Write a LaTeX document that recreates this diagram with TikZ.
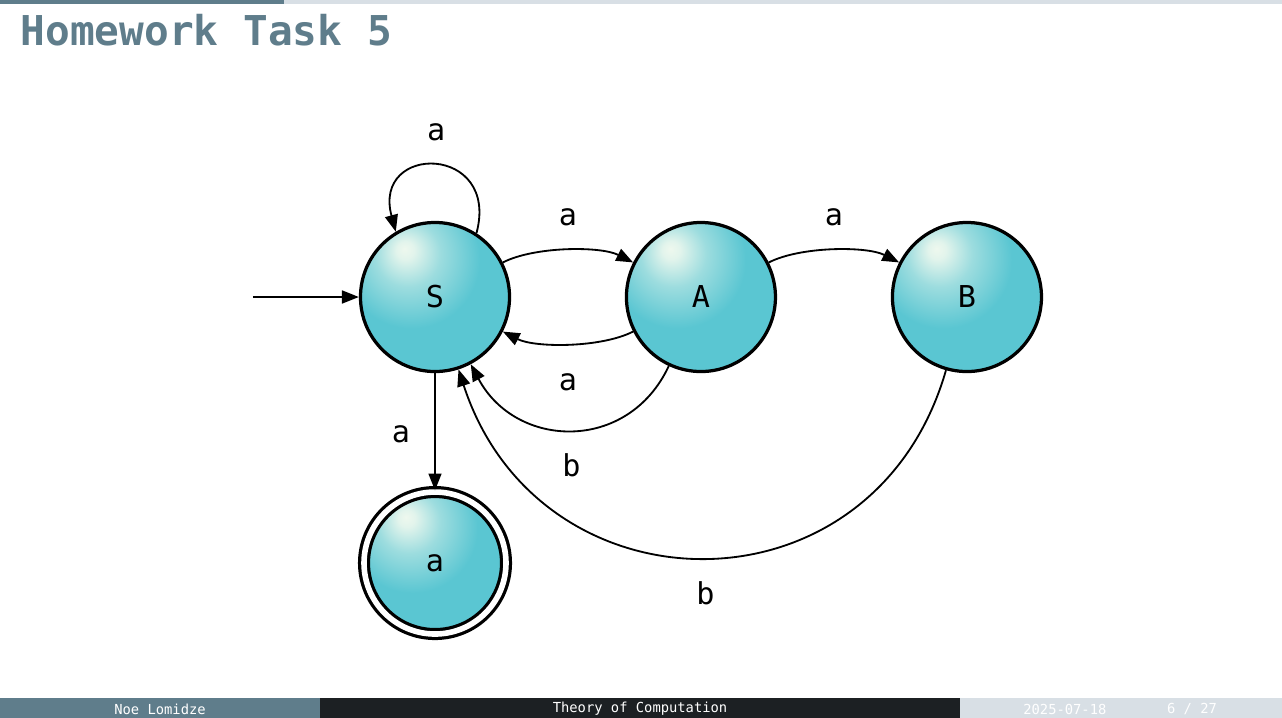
\documentclass[tikz,border=0pt]{standalone}
\usepackage{fontspec}
\setmainfont{DejaVu Sans Mono}
\usetikzlibrary{positioning,arrows.meta,calc}
\definecolor{slate}{HTML}{5F7D8B}
\definecolor{night}{HTML}{1C2023}
\definecolor{mist}{HTML}{D8DFE5}
\definecolor{stateteal}{HTML}{5AC6D2}
\definecolor{glow}{HTML}{EEF8EE}
\pgfdeclareradialshading{stateball}{\pgfpoint{-10.3bp}{16.2bp}}{%
  color(0bp)=(glow); color(3bp)=(glow!92!stateteal); color(11bp)=(glow!45!stateteal);
  color(23bp)=(stateteal); color(100bp)=(stateteal)}

\begin{document}
\begin{tikzpicture}[
    state/.style={circle, draw=black, line width=1.15pt, minimum size=1.86cm, inner sep=0pt,
                  shade, shading=stateball, font=\fontsize{10.7}{12}\selectfont},
    accept/.style={state, minimum size=1.772cm, double, double distance=0.07cm},
    trans/.style={line width=0.65pt, -{Triangle[length=6pt,width=4.6pt]}},
    lbl/.style={inner sep=0pt, text height=0.275cm, text depth=0pt, font=\fontsize{10.7}{12}\selectfont},
    foot/.style={text=white, inner sep=0pt, font=\fontsize{4.9}{6}\selectfont}
]
    \useasboundingbox (0,0) rectangle (16,8.961);

    % Progress bar and title
    \fill[mist] (0,8.911) rectangle (16,8.961);
    \fill[slate] (0,8.911) rectangle (3.544,8.961);
    \node[anchor=base west, inner sep=0pt, text=slate, font=\fontsize{14.6}{17}\selectfont\bfseries] (title) at (0.25,8.387) {Homework Task 5};

    % States
    \node[state] (S) at (5.429,5.254) {S};
    \node[state] (A) at (8.748,5.254) {A};
    \node[state] (B) at (12.068,5.254) {B};
    \node[accept] (acc) at (5.429,1.934) {a};
    \coordinate (start) at (3.157,5.254);

    % Transitions
    \draw[trans] (start) -- (S);
    \draw[trans] (S.57) .. controls +(75:1.15) and +(105:1.15) .. (S.121) node[lbl, pos=0.5, above=0.3cm] {a};
    \draw[trans] (S.27) .. controls +(27:0.45) and +(153:0.45) .. (A.153) node[lbl, midway, above=0.3cm] {a};
    \draw[trans] (A.207) .. controls +(207:0.45) and +(333:0.45) .. (S.333) node[lbl, midway, below=0.3cm] {a};
    \draw[trans] (A.27) .. controls +(27:0.45) and +(153:0.45) .. (B.153) node[lbl, midway, above=0.3cm] {a};
    \draw[trans] (A.245) .. controls +(245:1.2) and +(298:1.2) .. (S.298) node[lbl, midway, below=0.3cm] {b};
    \draw[trans] (B.254) .. controls +(254:3.26) and +(288:3.26) .. (S.288) node[lbl, midway, below=0.3cm] {b};
    \draw[trans] (S) -- (acc) node[lbl, midway, left=0.3cm] {a};

    % Footer
    \fill[slate] (0,0) rectangle (3.994,0.25);
    \fill[night] (3.994,0) rectangle (11.981,0.25);
    \fill[mist] (11.981,0) rectangle (16,0.25);
    \node[foot] (author) at (1.997,0.11) {Noe Lomidze};
    \node[foot] (course) at (7.988,0.11) {Theory of Computation};
    \node[foot] (date) at (13.29,0.11) {2025-07-18};
    \node[foot] (page) at (14.876,0.11) {6 / 27};
\end{tikzpicture}
\end{document}
